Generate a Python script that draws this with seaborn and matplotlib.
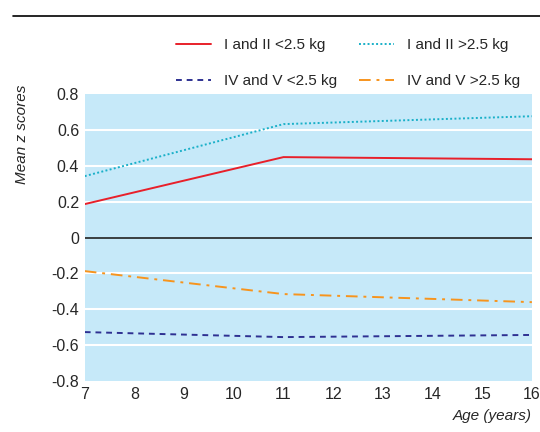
import matplotlib
matplotlib.use("Agg")
import matplotlib.pyplot as plt
import matplotlib.lines as mlines
import pandas as pd
import seaborn as sns

ages = [7, 11, 16]
grp_12_low = [0.187, 0.449, 0.437]
grp_12_high = [0.343, 0.633, 0.677]
grp_45_low = [-0.527, -0.555, -0.543]
grp_45_high = [-0.187, -0.315, -0.36]

labels = ["I and II <2.5 kg", "IV and V <2.5 kg", "I and II >2.5 kg", "IV and V >2.5 kg"]
yticks = [0.8, 0.6, 0.4, 0.2, 0, -0.2, -0.4, -0.6, -0.8]
ytick_labels = ["0.8", "0.6", "0.4", "0.2", "0", "-0.2", "-0.4", "-0.6", "-0.8"]

sns.set_style("white")
plt.rcParams['font.family'] = ['Liberation Sans', 'DejaVu Sans']

rows = []
for name, vals in zip(labels, [grp_12_low, grp_45_low, grp_12_high, grp_45_high]):
    for a, v in zip(ages, vals):
        rows.append({"age": a, "z": v, "group": name})
df = pd.DataFrame(rows)

colors = {labels[0]: "#e8202a", labels[1]: "#2e3192", labels[2]: "#1ab0c8", labels[3]: "#f7941d"}
styles = {labels[0]: "-", labels[1]: (0, (3, 2.5)), labels[2]: (0, (1, 1.2)), labels[3]: (0, (6, 3, 1.5, 3))}

fig = plt.figure(figsize=(5.4, 4.32), dpi=100)
ax = fig.add_axes([0.157, 0.118, 0.828, 0.664])
ax.set_facecolor("#c6e9f9")

for y in yticks:
    if y not in (0.8, -0.8, 0):
        ax.axhline(y, color="white", lw=1.5, zorder=1)
ax.axhline(0, color="#222222", lw=1.2, zorder=2)

handles = []
for name in labels:
    sub = df[df.group == name]
    sns.lineplot(data=sub, x="age", y="z", ax=ax, color=colors[name],
                 linestyle=styles[name], lw=1.4, zorder=3, legend=False)
    handles.append(mlines.Line2D([], [], color=colors[name], linestyle=styles[name], lw=1.4, label=name))

ax.set_xlim(7, 16)
ax.set_ylim(-0.8, 0.8)
ax.set_xticks(range(7, 17))
ax.set_yticks(yticks)
ax.set_yticklabels(ytick_labels)
ax.tick_params(axis="x", direction="in", color="white", length=4, width=1.2, labelsize=11.5, pad=4)
ax.tick_params(axis="y", length=0, labelsize=11.5, pad=4)
for s in ax.spines.values():
    s.set_visible(False)
ax.set_xlabel("")
ax.set_ylabel("")

fig.text(0.04, 0.69, "Mean z scores", rotation=90, style="italic", fontsize=11, ha="center", va="center")
fig.text(0.985, 0.02, "Age (years)", style="italic", fontsize=11, ha="right", va="bottom")
fig.add_artist(mlines.Line2D([0.024, 1.0], [0.963, 0.963], color="black", lw=1.2))

fig.legend(handles=handles, ncol=2, frameon=False, loc="upper left", bbox_to_anchor=(176 / 540, 1 - 38 / 432),
           borderpad=0, borderaxespad=0, fontsize=11, handlelength=2.3, handletextpad=0.85,
           columnspacing=1.4, labelspacing=1.45)

fig.savefig("out.png", dpi=100)
